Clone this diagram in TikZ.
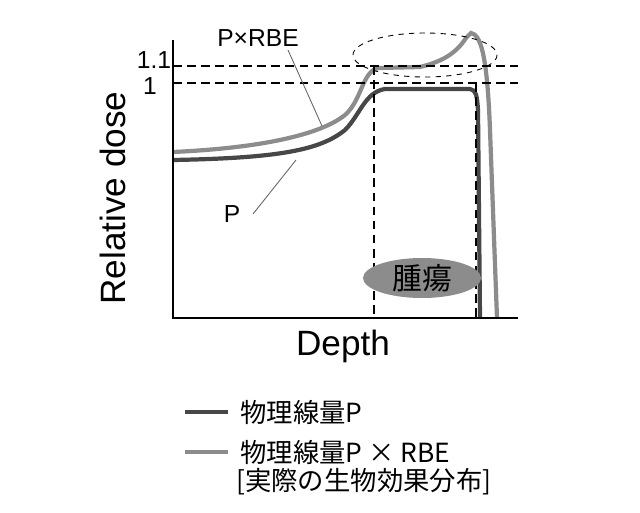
\documentclass[tikz,border=0pt]{standalone}
\usepackage{fontspec}
\setmainfont{Liberation Sans}
\newfontfamily\cjk{Noto Sans CJK JP}
\usetikzlibrary{shapes.geometric}
\begin{document}
\begin{tikzpicture}[x=0.02cm,y=-0.02cm,
  dk/.style={line width=2.4pt,color=black!72},
  lt/.style={line width=2.4pt,color=black!45},
  dsh/.style={line width=1.5pt,dash pattern=on 5pt off 3pt},
  txt/.style={font=\fontsize{14}{17}\selectfont,inner sep=0pt}]
\useasboundingbox (0,0) rectangle (640,512);
% curves
\draw[lt] (173,152) .. controls (260,148) and (320,135) .. (345,115) .. controls (362,100) and (362,72) .. (378,68) -- (420,67) .. controls (440,62) and (455,55) .. (466,38) -- (471,33) .. controls (480,35) and (487,50) .. (490,130) -- (497,318);
\draw[dk] (173,160) .. controls (280,158) and (320,150) .. (345,130) .. controls (360,115) and (365,92) .. (385,89) -- (470,89) .. controls (476,90) and (477,95) .. (478,110) -- (480,318);
% axes
\draw[line width=1.4pt] (173,40) -- (173,318) -- (518,318);
\draw[dsh] (173,66) -- (518,66);
\draw[dsh] (173,83) -- (518,83);
\draw[dsh] (374,66) -- (374,318);
\draw[dsh] (476,83) -- (476,318);
\draw[dashed,line width=0.5pt] (425,55) ellipse [x radius=72,y radius=22];
\node[ellipse,fill=black!45,minimum width=2.36cm,minimum height=0.8cm,inner sep=0pt,font=\cjk\fontsize{17}{20}\selectfont] (tumor) at (422,278) {腫瘍};
% labels
\node[txt] (l11) at (154,60) {1.1};
\node[txt] (l1) at (150,86) {1};
\node[txt] (prbe) at (258,38) {P×RBE};
\node[txt] (p) at (232,214) {P};
\coordinate (a1) at (322,126);
\coordinate (a2) at (296,160);
\coordinate (b1) at (288,50);
\coordinate (b2) at (253,214);
\draw[line width=0.5pt,black!60] (b1) -- (a1);
\draw[line width=0.5pt,black!60] (b2) -- (a2);
\node[txt,font=\fontsize{20}{24}\selectfont,rotate=90] (yl) at (113,198) {Relative dose};
\node[txt,font=\fontsize{20}{24}\selectfont] (xl) at (343,346) {Depth};
% legend
\draw[dk] (185,412) -- (228,412);
\draw[lt] (185,452) -- (228,452);
\node[txt,anchor=west,font=\cjk\fontsize{15}{18}\selectfont] (g1) at (240,412) {物理線量P};
\node[txt,anchor=west,font=\cjk\fontsize{15}{18}\selectfont] (g2) at (240,452) {物理線量P × RBE};
\node[txt,anchor=west,font=\cjk\fontsize{15}{18}\selectfont] (g3) at (236,482) {[実際の生物効果分布]};
\end{tikzpicture}
\end{document}
